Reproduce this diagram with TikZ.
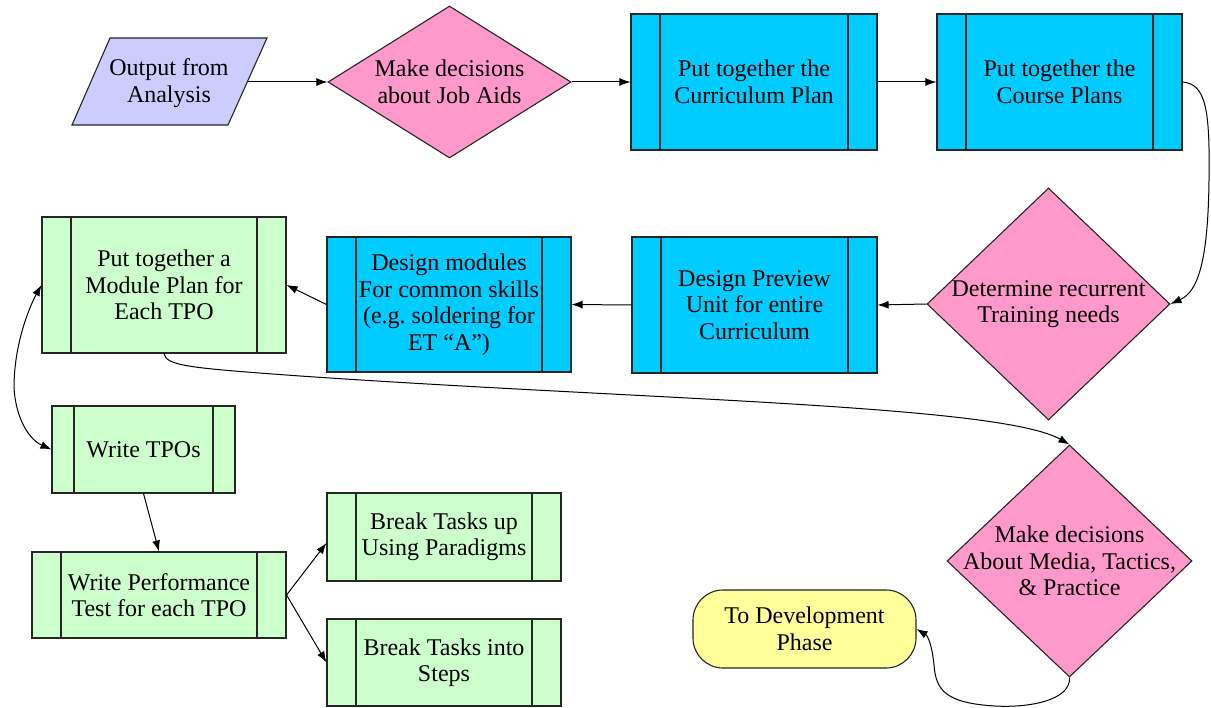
\documentclass[tikz,border=0pt]{standalone}
\usepackage{fontspec}
\setmainfont{Liberation Serif}
\newfontfamily\chartfont{Liberation Serif}
\usetikzlibrary{arrows.meta,shapes.geometric}

\definecolor{lavfill}{HTML}{CCCCFF}
\definecolor{pinkfill}{HTML}{FF99CC}
\definecolor{cyanfill}{HTML}{00CCFF}
\definecolor{greenfill}{HTML}{CCFFCC}
\definecolor{yellowfill}{HTML}{FFFF99}

\def\procgap{29pt}
\tikzset{
  lbl/.style={font=\chartfont\fontsize{24}{26.5}\selectfont, align=center, inner sep=0pt},
  outline/.style={draw=black!85, line width=1.1pt},
  gap/.code={\def\procgap{#1}},
  % predefined-process box: rectangle with a vertical bar inside each end
  proc/.style={outline, lbl, rectangle,
    path picture={\draw[black!85, line width=1.1pt]
      ([xshift=\procgap]path picture bounding box.south west) --
      ([xshift=\procgap]path picture bounding box.north west)
      ([xshift=-\procgap]path picture bounding box.south east) --
      ([xshift=-\procgap]path picture bounding box.north east);}},
  blue/.style={proc, fill=cyanfill},
  green/.style={proc, fill=greenfill},
  decision/.style={outline, diamond, fill=pinkfill, inner sep=0pt},
  arr/.style={-{Latex[length=11pt,width=8pt]}, line width=1pt, black},
  dblarr/.style={{Latex[length=11pt,width=8pt]}-{Latex[length=11pt,width=8pt]}, line width=1pt, black}
}

\begin{document}
\begin{tikzpicture}[x=1pt,y=-1pt]
\useasboundingbox (0,0) rectangle (1211,708);

% input parallelogram
\path[outline, fill=lavfill] (110,38) -- (267,38) -- (228,125) -- (72,125) -- cycle;
\node[lbl] (out) at (169,83) {Output from\\Analysis};
\coordinate (outR) at (247.5,82);

% top row
\node[decision, minimum width=243pt, minimum height=152pt,
      label={[lbl]center:{Make decisions\\about Job Aids}}] (jobaids) at (449.5,82) {};
\node[blue, minimum width=246pt, minimum height=136pt] (curr) at (754,82) {Put together the\\Curriculum Plan};
\node[blue, minimum width=245pt, minimum height=136pt] (course) at (1059.5,82) {Put together the\\Course Plans};

% second row
\node[decision, minimum width=243pt, minimum height=232pt,
      label={[lbl]center:{Determine recurrent\\Training needs}}] (det) at (1048.5,304) {};
\node[blue, minimum width=245pt, minimum height=136pt] (preview) at (754.5,305) {Design Preview\\Unit for entire\\Curriculum};
\node[blue, minimum width=244pt, minimum height=135pt] (design) at (449,304.5) {Design modules\\For common skills\\(e.g.\ soldering for\\ET “A”)};
\node[green, minimum width=244pt, minimum height=136pt] (module) at (164,285) {Put together a\\Module Plan for\\Each TPO};

% lower left group
\node[green, gap=22pt, minimum width=183pt, minimum height=87pt] (tpo) at (143.5,449.5) {Write TPOs};
\node[green, minimum width=254pt, minimum height=86pt] (perf) at (159,595) {Write Performance\\Test for each TPO};
\node[green, minimum width=234pt, minimum height=88pt] (breakup) at (444,537) {Break Tasks up\\Using Paradigms};
\node[green, minimum width=234pt, minimum height=87pt] (breakinto) at (444,662.5) {Break Tasks into\\Steps};

% lower right
\node[decision, minimum width=245pt, minimum height=232pt,
      label={[lbl]center:{Make decisions\\About Media, Tactics,\\\& Practice}}] (media) at (1069.5,561) {};
\node[outline, lbl, fill=yellowfill, rounded corners=30pt,
      minimum width=223pt, minimum height=78pt] (term) at (804.5,629) {To Development\\Phase};

% connectors
\draw[arr] (outR) -- (jobaids.west);
\draw[arr] (jobaids.east) -- (curr.west);
\draw[arr] (curr.east) -- (course.west);
\draw[arr] (course.east) .. controls (1206,84) and (1210,110) .. (1209,180)
           .. controls (1208,265) and (1197,292) .. (det.east);
\draw[arr] (det.west) -- (preview.east);
\draw[arr] (preview.west) -- (design.east);
\draw[arr] (design.west) -- (module.east);
\draw[arr] (module.south) .. controls (166,366) and (190,368) .. (300,376)
           .. controls (650,400) and (1000,405) .. (media.north);
\draw[dblarr] (module.west) .. controls (32,302) and (14,340) .. (14,388)
           .. controls (16,420) and (30,440) .. (tpo.west);
\draw[arr] (tpo.south) -- (perf.north);
\draw[arr] (perf.east) -- ([yshift=-6pt]breakup.west);
\draw[arr] (perf.east) -- (breakinto.west);
\draw[arr] (media.south) .. controls (1071,700) and (1030,708) .. (995,706)
           .. controls (945,703) and (936,690) .. (934,665)
           .. controls (932,645) and (928,636) .. (term.east);
\end{tikzpicture}
\end{document}
